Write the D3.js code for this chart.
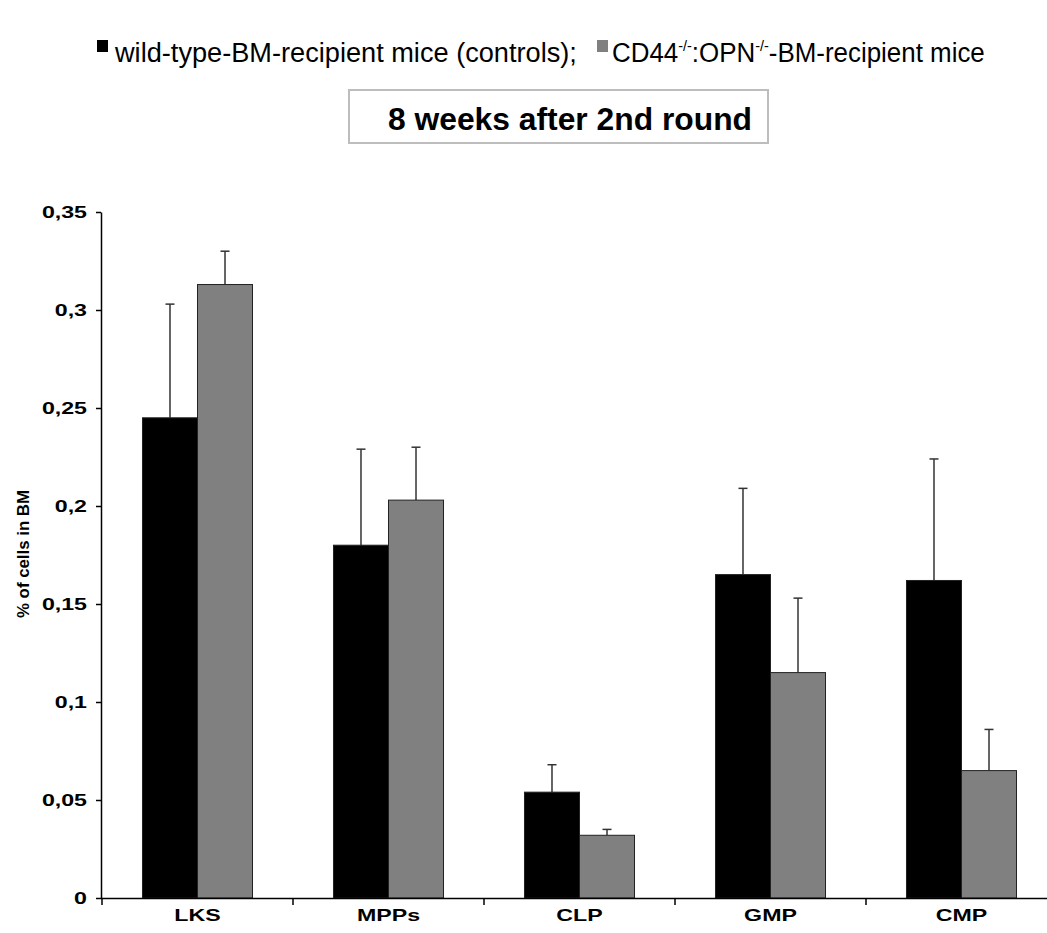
<!DOCTYPE html>
<html>
<head>
<meta charset="utf-8">
<script src="https://cdn.jsdelivr.net/npm/d3@7"></script>
<style>
  html, body { margin: 0; padding: 0; background: #fff; }
  svg { display: block; }
  text { font-family: "Liberation Sans", Arial, sans-serif; }
</style>
</head>
<body>
<svg id="chart" width="1047" height="933"></svg>
<script>
const categories = ["LKS", "MPPs", "CLP", "GMP", "CMP"];
const seriesNames = ["wild-type-BM-recipient mice (controls)", "CD44-/-:OPN-/--BM-recipient mice"];
const controlValues = [0.245, 0.180, 0.054, 0.165, 0.162];
const controlErrors = [0.058, 0.049, 0.014, 0.044, 0.062];
const knockoutValues = [0.313, 0.203, 0.032, 0.115, 0.065];
const knockoutErrors = [0.017, 0.027, 0.003, 0.038, 0.021];
const yTicks = [0, 0.05, 0.1, 0.15, 0.2, 0.25, 0.3, 0.35];
const yTickLabels = ["0", "0,05", "0,1", "0,15", "0,2", "0,25", "0,3", "0,35"];
const colors = ["#000000", "#808080"];

const svg = d3.select("#chart");
const SX = 1.45; // horizontal stretch of axis labels, as in the original figure

const x0 = d3.scaleBand().domain(categories).range([102, 1057]).paddingInner(0).paddingOuter(0);
const x1 = d3.scaleBand().domain([0, 1]).range([0, x0.bandwidth()]).paddingInner(0).paddingOuter(0.736);
const y = d3.scaleLinear().domain([0, 0.35]).range([898, 212]);

const data = categories.map((c, i) => ({
  cat: c,
  vals: [
    { s: 0, v: controlValues[i], e: controlErrors[i] },
    { s: 1, v: knockoutValues[i], e: knockoutErrors[i] }
  ]
}));

const g = svg.append("g");
const groups = g.selectAll("g.grp").data(data).enter().append("g")
  .attr("transform", d => `translate(${x0(d.cat)},0)`);

groups.selectAll("g.err").data(d => d.vals).enter().append("g").each(function(d) {
  const cx = x1(d.s) + x1.bandwidth() / 2;
  const sel = d3.select(this);
  sel.append("line").attr("x1", cx).attr("x2", cx)
    .attr("y1", y(d.v)).attr("y2", y(d.v + d.e))
    .attr("stroke", "#333").attr("stroke-width", 1.5);
  sel.append("line").attr("x1", cx - 4.5).attr("x2", cx + 4.5)
    .attr("y1", y(d.v + d.e)).attr("y2", y(d.v + d.e))
    .attr("stroke", "#333").attr("stroke-width", 1.5);
});

groups.selectAll("rect").data(d => d.vals).enter().append("rect")
  .attr("x", d => x1(d.s))
  .attr("width", x1.bandwidth())
  .attr("y", d => y(d.v))
  .attr("height", d => y(0) - y(d.v))
  .attr("fill", d => colors[d.s])
  .attr("stroke", "#222")
  .attr("stroke-width", 1);

// y axis
const yAxis = d3.axisLeft(y).tickValues(yTicks)
  .tickFormat((d, i) => yTickLabels[i]).tickSize(5).tickSizeOuter(0);
const ya = svg.append("g").attr("transform", "translate(101,0)").call(yAxis);
ya.select(".domain").attr("stroke", "#000").attr("stroke-width", 1.5);
ya.selectAll(".tick line").attr("stroke", "#000").attr("stroke-width", 1.5);
ya.selectAll(".tick text")
  .attr("x", -14 / SX)
  .attr("transform", `scale(${SX},1)`)
  .attr("font-size", 16).attr("font-weight", "bold")
  .attr("fill", "#000").attr("font-family", "Liberation Sans, Arial, sans-serif");

// x axis line and ticks at band boundaries
svg.append("line").attr("x1", 101).attr("x2", 1047).attr("y1", 898.5).attr("y2", 898.5)
  .attr("stroke", "#000").attr("stroke-width", 1.5);
svg.selectAll("line.xt").data(categories).enter().append("line")
  .attr("x1", d => x0(d)).attr("x2", d => x0(d))
  .attr("y1", 898).attr("y2", 905)
  .attr("stroke", "#000").attr("stroke-width", 1.5);
svg.selectAll("text.xl").data(categories).enter().append("text")
  .attr("transform", d => `translate(${x0(d) + x0.bandwidth() / 2},921) scale(${SX},1)`)
  .attr("text-anchor", "middle")
  .attr("font-size", 16).attr("font-weight", "bold")
  .text(d => d);

// y label
svg.append("text")
  .attr("transform", "translate(29,554) rotate(-90)")
  .attr("text-anchor", "middle")
  .attr("font-size", 16).attr("font-weight", "bold")
  .attr("textLength", 128).attr("lengthAdjust", "spacingAndGlyphs")
  .text("% of cells in BM");

// title box
svg.append("rect").attr("x", 349).attr("y", 90).attr("width", 419).attr("height", 53)
  .attr("fill", "#fff").attr("stroke", "#bdbdbd").attr("stroke-width", 2);
svg.append("text").attr("x", 570).attr("y", 130).attr("text-anchor", "middle")
  .attr("font-size", 31).attr("font-weight", "bold")
  .attr("textLength", 364).attr("lengthAdjust", "spacingAndGlyphs")
  .text("8 weeks after 2nd round");

// legend
function fitX(sel, x0p, targetW) {
  const w = sel.node().getBBox().width;
  sel.attr("transform", `translate(${x0p},0) scale(${targetW / w},1)`);
}
const leg = svg.append("g");
leg.append("rect").attr("x", 97).attr("y", 40).attr("width", 11).attr("height", 12).attr("fill", colors[0]);
const t1 = leg.append("text").attr("x", 0).attr("y", 62).attr("font-size", 27).text(seriesNames[0] + ";");
fitX(t1, 115, 463);
leg.append("rect").attr("x", 597).attr("y", 40).attr("width", 11).attr("height", 12).attr("fill", colors[1]);
const t2 = leg.append("text").attr("x", 0).attr("y", 62).attr("font-size", 27);
t2.append("tspan").text("CD44");
t2.append("tspan").attr("dy", -11).attr("font-size", 15).text("-/-");
t2.append("tspan").attr("dy", 11).text(":OPN");
t2.append("tspan").attr("dy", -11).attr("font-size", 15).text("-/-");
t2.append("tspan").attr("dy", 11).text("-BM-recipient mice");
fitX(t2, 612, 373);
</script>
</body>
</html>
